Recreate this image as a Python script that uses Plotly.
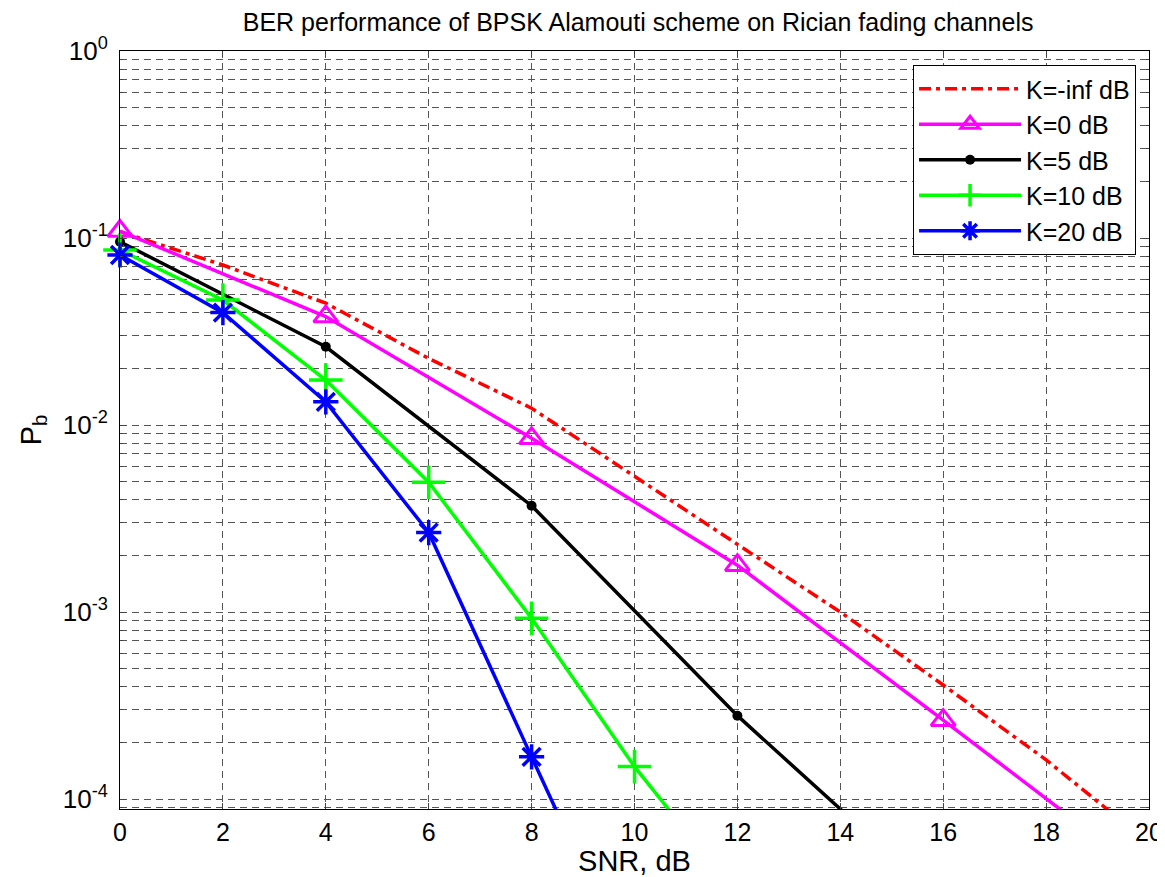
import plotly.graph_objects as go

# SNR grids (dB)
snr_inf = [0, 2, 4, 6, 8, 10, 12, 14, 16, 18, 20]
snr_k0 = [0, 4, 8, 12, 16, 20]
snr_k5 = [0, 4, 8, 12, 16]
snr_k10 = [0, 2, 4, 6, 8, 10, 12]
snr_k20 = [0, 2, 4, 6, 8, 10]

# BER values
ber_inf = [0.108, 0.0717, 0.0448, 0.0227, 0.0123, 0.00529, 0.0023, 0.0010, 4.07e-4, 1.62e-4, 5.8e-5]
ber_k0 = [0.109, 0.0380, 0.00849, 0.00178, 2.64e-4, 3.83e-5]
ber_k5 = [0.0955, 0.0262, 0.00370, 2.79e-4, 2.8e-5]
ber_k10 = [0.0862, 0.0466, 0.0174, 0.00494, 9.25e-4, 1.49e-4, 3.05e-5]
ber_k20 = [0.0811, 0.0399, 0.0133, 0.00266, 1.68e-4, 1.08e-5]

names = ["K=-inf dB", "K=0 dB", "K=5 dB", "K=10 dB", "K=20 dB"]

x_ticks = list(range(0, 21, 2))
y_ticks = [1e-4, 1e-3, 1e-2, 1e-1, 1]
y_ticktext = ["10<sup>-4</sup>", "10<sup>-3</sup>", "10<sup>-2</sup>", "10<sup>-1</sup>", "10<sup>0</sup>"]
y_minor = [m * 10.0 ** e for e in range(-5, 0) for m in range(2, 10)]

FONT = "Liberation Sans, Arial, sans-serif"
GRID = "#555555"
LW = 3.5

# page body has an 8px margin; figure is sized/offset to compensate
W, H = 1157, 869

fig = go.Figure()
fig.add_trace(go.Scatter(x=snr_inf, y=ber_inf, mode="lines", name=names[0],
                         line=dict(color="#ff0000", width=LW, dash="12px,5px,4px,5px")))
fig.add_trace(go.Scatter(x=snr_k0, y=ber_k0, mode="lines+markers", name=names[1],
                         line=dict(color="#ff00ff", width=LW), cliponaxis=False,
                         marker=dict(symbol="triangle-up-open", size=21, color="#ff00ff",
                                     line=dict(width=3, color="#ff00ff"))))
fig.add_trace(go.Scatter(x=snr_k5, y=ber_k5, mode="lines+markers", name=names[2],
                         line=dict(color="#000000", width=LW), cliponaxis=False,
                         marker=dict(symbol="circle", size=10, color="#000000")))
fig.add_trace(go.Scatter(x=snr_k10, y=ber_k10, mode="lines+markers", name=names[3],
                         line=dict(color="#00ff00", width=LW), cliponaxis=False,
                         marker=dict(symbol="cross-thin", size=24, color="#00ff00",
                                     line=dict(width=3.5, color="#00ff00"))))
fig.add_trace(go.Scatter(x=snr_k20, y=ber_k20, mode="lines+markers", name=names[4],
                         line=dict(color="#0000ff", width=LW), cliponaxis=False,
                         marker=dict(symbol="asterisk-open", size=21, color="#0000ff",
                                     line=dict(width=3.5, color="#0000ff"))))

fig.update_layout(
    width=W, height=H,
    margin=dict(l=112, r=16, t=43, b=68),
    paper_bgcolor="white", plot_bgcolor="white",
    font=dict(family=FONT, size=24, color="black"),
    title=dict(text="BER performance of BPSK Alamouti scheme on Rician fading channels",
               x=0.5446, xanchor="center", y=1 - 14 / H, yanchor="middle", yref="container",
               font=dict(size=25)),
    showlegend=True,
    legend=dict(x=0.7707, y=0.9815, xanchor="left", yanchor="top",
                bgcolor="white", bordercolor="black", borderwidth=1,
                font=dict(size=25), itemwidth=102),
    xaxis=dict(range=[0, 20], tickvals=x_ticks, ticks="inside", ticklen=6,
               showline=True, linecolor="black", linewidth=1, mirror="allticks",
               showgrid=True, gridcolor=GRID, gridwidth=1, griddash="7px,5px",
               zeroline=False, automargin=False, ticklabelstandoff=1,
               tickfont=dict(size=25),
               title=dict(text="SNR, dB", standoff=6)),
    yaxis=dict(type="log", range=[-4.0535, 0], tickvals=y_ticks, ticktext=y_ticktext,
               ticks="inside", ticklen=6,
               showline=True, linecolor="black", linewidth=1, mirror="allticks",
               showgrid=True, gridcolor=GRID, gridwidth=1, griddash="7px,5px",
               zeroline=False, automargin=False, ticklabelstandoff=6,
               tickfont=dict(size=26),
               minor=dict(tickvals=y_minor, ticks="inside", ticklen=3,
                          showgrid=True, gridcolor=GRID, gridwidth=1, griddash="7px,5px"),
               title=dict(text="P<sub>b</sub>", standoff=12)),
)

fig.write_html("out.html")
